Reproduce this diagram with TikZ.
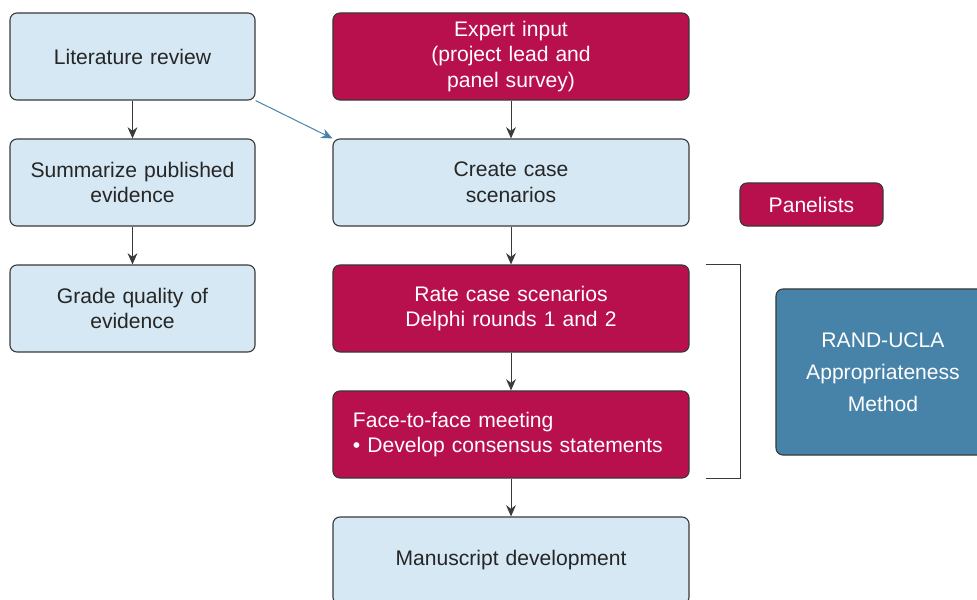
\documentclass[tikz,border=0pt]{standalone}
\usepackage{fontspec}
\setmainfont{Liberation Sans}
\usetikzlibrary{arrows.meta}
\definecolor{paleblue}{HTML}{D5E8F3}
\definecolor{crimson}{HTML}{B80F4D}
\definecolor{steel}{HTML}{4783A9}
\definecolor{edge}{HTML}{3A3A3A}
\tikzset{
	box/.style={draw=edge,line width=0.8pt,rounded corners=5pt,minimum height=2.175cm,inner xsep=0pt,align=center,font=\fontsize{15}{18.3}\selectfont},
	lbox/.style={box,fill=paleblue,text=black!85},
	rbox/.style={box,fill=crimson,text=white},
	narrow/.style={text width=6.125cm},
	wide/.style={text width=8.9cm},
	flow/.style={draw=edge,line width=0.7pt,-{Stealth[length=8pt,width=7pt]}}
}
\begin{document}
\begin{tikzpicture}[x=0.025cm,y=-0.025cm]
	\clip (0,0) rectangle (977,599);
	\useasboundingbox (0,0) rectangle (977,599);
	% left column
	\node [lbox,narrow] (lit) at (132.5,56.5) {Literature review};
	\node [lbox,narrow] (sum) at (132.5,182.5) {Summarize published\\evidence};
	\node [lbox,narrow] (grade) at (132.5,308.5) {Grade quality of\\evidence};
	% middle column
	\node [rbox,wide] (expert) at (511,56.5) {Expert input\\(project lead and\\panel survey)};
	\node [lbox,wide] (create) at (511,182.5) {Create case\\scenarios};
	\node [rbox,wide] (rate) at (511,308.5) {Rate case scenarios\\Delphi rounds 1 and 2};
	\node [rbox,wide,align=left,text width=7.9cm,inner xsep=0.5cm] (meet) at (511,434.5) {Face-to-face meeting\\\textbullet{} Develop consensus statements};
	\node [lbox,wide] (manu) at (511,560.5) {Manuscript development};
	% right side
	\node [rbox,text width=3.575cm,minimum height=1.075cm] (panel) at (811.5,204.5) {Panelists};
	\node [box,fill=steel,text=white,text width=5.35cm,minimum height=4.15cm,font=\fontsize{15}{22.8}\selectfont] (rand) at (883,372) {RAND-UCLA\\Appropriateness\\Method};

	\draw [flow] (lit) -- (sum);
	\draw [flow] (sum) -- (grade);
	\draw [flow] (expert) -- (create);
	\draw [flow] (create) -- (rate);
	\draw [flow] (rate) -- (meet);
	\draw [flow] (meet) -- (manu);
	\draw [flow,draw=steel] (lit.south east) -- (create.north west);
	\draw [edge,line width=0.8pt] ([xshift=0.4cm]rate.north east) -- ++(35,0) |- ([xshift=0.4cm]meet.south east);
\end{tikzpicture}
\end{document}
